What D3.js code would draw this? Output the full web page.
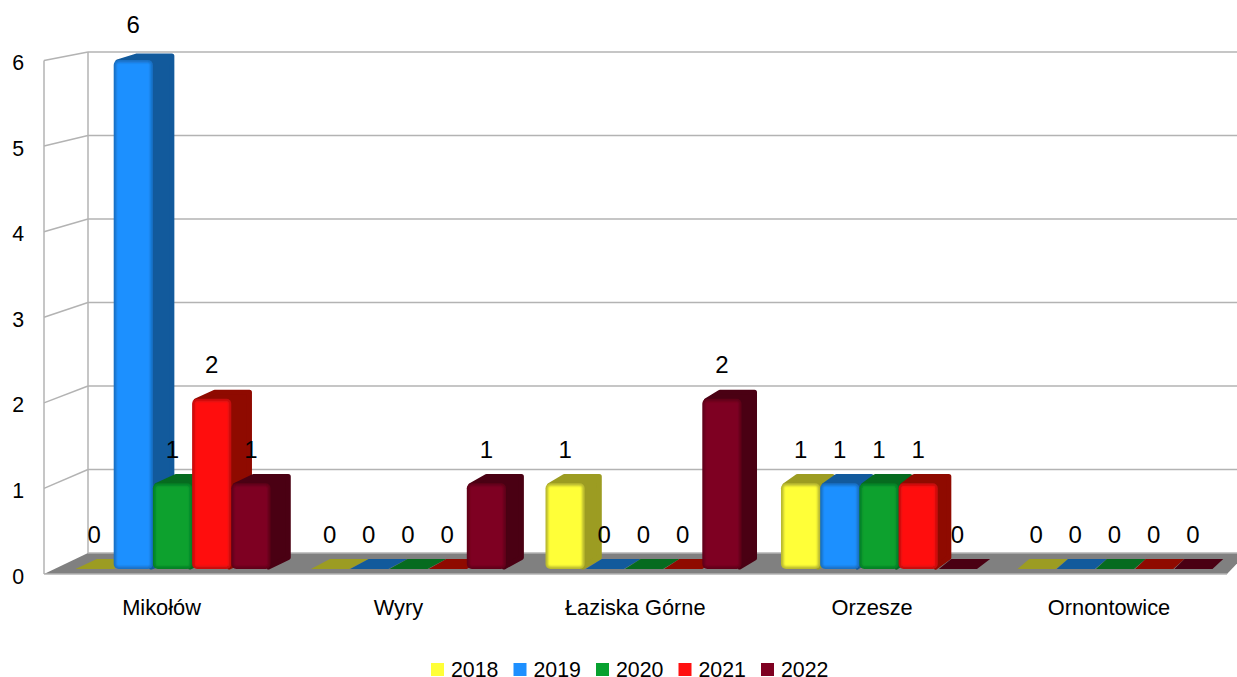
<!DOCTYPE html>
<html>
<head>
<meta charset="utf-8">
<script src="https://cdnjs.cloudflare.com/ajax/libs/d3/7.8.5/d3.min.js"></script>
<style>
  html, body { margin: 0; padding: 0; background: #fff; overflow: hidden; }
  svg { display: block; font-family: "Liberation Sans", Arial, sans-serif; }
</style>
</head>
<body>
<svg id="chart" width="1237" height="677"></svg>
<script>
const categories = ["Mikołów", "Wyry", "Łaziska Górne", "Orzesze", "Ornontowice"]
const years = ["2018", "2019", "2020", "2021", "2022"]
const values2018 = [0, 0, 1, 1, 0]
const values2019 = [6, 0, 0, 1, 0]
const values2020 = [1, 0, 0, 1, 0]
const values2021 = [2, 0, 0, 1, 0]
const values2022 = [1, 1, 2, 0, 0]
const seriesValues = [values2018, values2019, values2020, values2021, values2022]
const yTicks = [0, 1, 2, 3, 4, 5, 6]

const FRONT = ["#ffff38", "#1e90ff", "#07a12f", "#ff1010", "#7e0021"]
const EDGE = ["#b8b830", "#1a70c4", "#067f26", "#c40e0e", "#600019"]
const DARK = ["#9c9c22", "#125a9c", "#066b1f", "#8f0a00", "#4a0013"]
const GRID = "#b3b3b3"

const svg = d3.select("#chart")

// Scales: front wall edge, back wall, and the bars plane in between
const yFront = d3.scaleLinear().domain([0, 6]).range([574, 60.5])
const yBack = d3.scaleLinear().domain([0, 6]).range([553, 52])
const yBar = d3.scaleLinear().domain([0, 6]).range([568, 60])
const yLabel = d3.scaleLinear().domain([0, 6]).range([543, 33])
const rise = d3.scaleLinear().domain([0, 6]).range([10, 6.5])
// Perspective: depth offset shrinks going right
const depth = d3.scaleLinear().domain([0, 1237]).range([23, 10.5])

const xGroup = d3.scaleBand().domain(categories).range([74.5, 1212.5]).paddingInner(0.1677).paddingOuter(0)
const xBar = d3.scaleBand().domain(years).range([0, xGroup.bandwidth()])
// Category labels do not sit quite under their groups in the original
const xLabel = d3.scalePoint().domain(categories).range([161, 1108.5])

const defs = svg.append("defs")
defs.append("filter").attr("id", "soft")
  .append("feGaussianBlur").attr("stdDeviation", 1.2)

// Walls and grid
const grid = svg.append("g").attr("fill", "none").attr("stroke", GRID).attr("stroke-width", 1.5)
yTicks.forEach(t => {
  if (t > 0) {
    grid.append("line").attr("x1", 88).attr("x2", 1237).attr("y1", yBack(t)).attr("y2", yBack(t))
    grid.append("line").attr("x1", 44).attr("x2", 88).attr("y1", yFront(t)).attr("y2", yBack(t))
  }
})
grid.append("line").attr("x1", 44).attr("x2", 44).attr("y1", yFront(6)).attr("y2", yFront(0))
grid.append("line").attr("x1", 88).attr("x2", 88).attr("y1", yBack(6)).attr("y2", yBack(0))

// Floor
svg.append("path")
  .attr("d", `M44,${yFront(0)}L88,${yBack(0)}L1247,${yBack(0)}L1227,${yFront(0)}Z`)
  .attr("fill", "#808080")
svg.append("line").attr("x1", 88).attr("x2", 1237).attr("y1", yBack(0)).attr("y2", yBack(0))
  .attr("stroke", GRID).attr("stroke-width", 1.5)
svg.append("line").attr("x1", 44).attr("x2", 1227).attr("y1", yFront(0)).attr("y2", yFront(0))
  .attr("stroke", GRID).attr("stroke-width", 1.5)

// Bars, left to right so that later ones cover the sides of earlier ones
const bars = svg.append("g")
categories.forEach((cat, c) => {
  years.forEach((year, s) => {
    const v = seriesValues[s][c]
    const xl = xGroup(cat) + xBar(year)
    const xr = xl + xBar.bandwidth()
    const yb = yBar(0) + 1
    const dx = depth(xr)
    const r = rise(v)

    if (v === 0) {
      // Zero values only leave a flat patch on the floor
      const dx0 = depth(xl)
      bars.append("path")
        .attr("d", `M${xl + 1},${yb}L${xl + dx0},${yb - r}L${xr + dx},${yb - r}L${xr},${yb}Z`)
        .attr("fill", DARK[s])
      return
    }

    const yt = yBar(v)
    bars.append("path")
      .attr("d", `M${xl + 4},${yt + 2}L${xl + dx + 2},${yt - r + 2.5}L${xr + dx - 2.5},${yt - r + 2.5}L${xr + dx - 2.5},${yb - r - 2}L${xr - 2},${yb - 2}Z`)
      .attr("fill", DARK[s])
      .attr("stroke", DARK[s])
      .attr("stroke-width", 5)
      .attr("stroke-linejoin", "round")

    bars.append("rect")
      .attr("x", xl).attr("y", yt)
      .attr("width", xr - xl).attr("height", yb - yt)
      .attr("rx", 5)
      .attr("fill", EDGE[s])
    bars.append("rect")
      .attr("x", xl + 2.5).attr("y", yt + 2.5)
      .attr("width", xr - xl - 5).attr("height", yb - yt - 5)
      .attr("rx", 2)
      .attr("fill", FRONT[s])
      .attr("filter", "url(#soft)")
  })
})

// Data labels on top of the bars
const labels = svg.append("g")
  .attr("font-size", 24).attr("fill", "#000").attr("text-anchor", "middle")
categories.forEach((cat, c) => {
  years.forEach((year, s) => {
    const v = seriesValues[s][c]
    labels.append("text")
      .attr("x", xGroup(cat) + xBar(year) + xBar.bandwidth() / 2)
      .attr("y", yLabel(v))
      .text(v)
  })
})

// Value axis
const yAxis = d3.axisLeft(yFront).tickValues(yTicks).tickFormat(d3.format("d")).tickSize(0).tickPadding(0)
svg.append("g")
  .attr("transform", "translate(24,9)")
  .call(yAxis)
  .call(g => g.select(".domain").remove())
  .call(g => g.selectAll("text")
    .attr("dy", 0).attr("font-size", 21.33).attr("font-family", "Liberation Sans").attr("fill", "#000"))

// Category axis
const xAxis = d3.axisBottom(xLabel).tickSize(0).tickPadding(0)
svg.append("g")
  .attr("transform", "translate(0,615)")
  .call(xAxis)
  .call(g => g.select(".domain").remove())
  .call(g => g.selectAll("text")
    .attr("dy", 0).attr("y", 0).attr("font-size", 21.8).attr("font-family", "Liberation Sans").attr("fill", "#000"))

// Legend
const xLegend = d3.scalePoint().domain(years).range([431, 761])
const legend = svg.append("g")
years.forEach((year, s) => {
  legend.append("rect")
    .attr("x", xLegend(year)).attr("y", 663)
    .attr("width", 13).attr("height", 13)
    .attr("fill", FRONT[s])
  legend.append("text")
    .attr("x", xLegend(year) + 20).attr("y", 677)
    .attr("font-size", 21.33).attr("fill", "#000")
    .text(year)
})
</script>
</body>
</html>
